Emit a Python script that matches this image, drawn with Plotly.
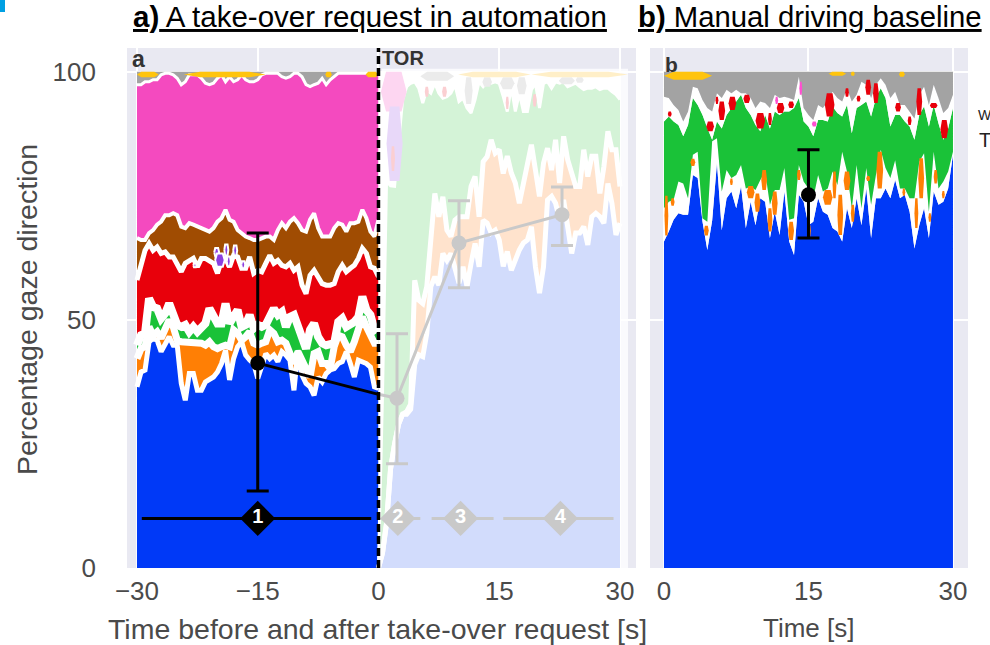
import numpy as np
import plotly.graph_objects as go

t_a = np.arange(61) * 0.5 - 30
t_p = np.arange(61) * 0.5
t_b = np.arange(61) * 0.5

# Panel a, before the take-over request: upper edge of each stacked band (%)
a_blue = [36.5,39.5,39.9,45.6,46.3,45.9,43.6,44.9,46.6,44.9,44.9,37.2,33.8,39.2,39.2,35.8,35.8,37.5,37.9,38.5,39.5,41.2,43.9,37.9,42.2,44.6,45.6,42.9,41.9,41.2,38.2,40.5,43.2,42.2,42.9,41.6,43.6,42.9,41.9,35.8,43.9,38.9,37.2,36.5,34.8,38.5,37.5,39.2,39.9,40.2,41.2,41.6,43.6,41.2,38.5,41.9,41.6,41.2,40.5,36.5,36.2]
a_orange = [42.2,44.2,44.6,48.6,46.9,47.6,46.3,48,50,48.6,45.9,45.6,45.6,45.6,45.3,45.3,45.3,44.9,45.6,44.6,44.2,44.6,44.9,44.6,48,47.3,45.9,46.6,47.6,45.3,44.9,45.3,45.6,48,47.3,45.6,45.9,45.3,43.2,41.2,43.6,41.9,39.9,38.5,43.2,43.6,41.2,41.2,40.2,44.6,46.9,46.6,44.9,43.6,45.6,48.6,50.6,48.6,46.9,45.3,45.3]
a_green = [44.9,46.9,47.3,54.3,52.6,52.3,50.3,51.3,53.3,51.3,49,48.6,49,47.6,48.6,47.6,48.6,49.3,52.3,50.3,49.3,49.3,53.3,49.3,51,52,48.6,49,51,48.3,49,48.6,49,51,52.3,51,51.6,48.6,50.6,51,48.3,45.9,44.2,48,49.3,46.6,45.3,44.9,45.3,45.3,49.6,50.3,48.6,49,49.6,50.6,54.7,52,51,48,48.6]
a_red = [58,61.4,64,65.4,64,64.7,63.4,63.7,62.7,62.7,61.4,59.7,61.4,62,62.4,60.7,62.4,62.4,62,61.4,59.4,62,62.4,60.7,63,62.7,60.4,60.4,62.7,59.4,60,59.7,61.4,63,61.4,62,61,60.7,61.4,60,60.7,57,55.3,59,60,58.4,57.3,57,57,57.3,59.7,61,59.7,60.4,61,62.4,64.4,63.4,60.7,60.4,58.7]
a_brown = [66.5,66.1,66.1,67.5,68.1,69.2,69.8,71.1,71.1,71.5,71.1,68.8,68.5,69.5,69.2,68.8,68.5,68.1,67.8,68.5,69.8,70.5,72.2,70.2,69.8,68.1,67.5,66.8,66.5,66.1,66.1,66.5,66.8,66.8,66.1,68.1,69.5,68.5,69.8,70.5,69.5,68.1,67.8,70.2,71.5,68.5,66.8,66.8,66.8,68.5,69.5,69.2,67.8,69.5,69.5,69.8,72.2,70.5,67.8,66.8,70.2]
a_pink = [97.4,97.4,98,98,98.4,98.4,99.4,99.7,99.7,99.4,98.7,97.4,98,99.4,99.4,99.4,98.7,97.7,97.4,97.7,98.7,99.4,98,99,98,98.4,99.4,98.4,98,98,98.4,99.4,99.7,99.7,99.7,99.7,99,98.7,99,99.7,99.7,99,97.4,97,97.4,97.7,98.7,97.4,98.4,99,99.7,99.7,99.7,99.7,99.7,99.7,99.7,99.7,99.7,99.7,99.7]

# Panel a, after the take-over request
p_blue = [0,3,9,20,25,29,31,31,32,41,43,42.6,47.3,56.7,58.7,57,63.4,62,63.4,60.7,57.4,60.7,56.7,61.4,65.4,60.7,70.1,69.5,67.5,68.1,66.1,60.8,63.8,60,62.1,64.1,65.5,66.1,68.8,60.7,55.4,60.7,74.2,74.9,73.5,70.2,74.2,68.1,63.4,67.5,67.5,68.8,65.1,70.8,71.5,70.8,69.5,77.5,73.5,67.1,69.5]
p_orange = [0,3,9,20,25,29,31,31.5,33,58,54,53.3,56.7,65.4,75.5,70.8,74.8,68.1,66.8,70.1,70.8,70.8,70.8,76.9,78.9,70.8,81.9,82.9,86.3,83.6,84.3,79.5,83,79.6,77.6,73.5,77.6,81.6,85.3,80.2,74.9,81.6,84.6,80.2,86.3,77.6,87,82.3,79.6,76.9,76.9,84.3,78.9,83,83,75.5,80.9,88,84.3,84.3,76.9]
p_green = [1,35,78,77,76.9,85.6,94.4,97,97.7,98,96.7,93.7,96.4,95.7,97.7,95.7,94.7,95,95.7,97.4,94,94.7,92.7,91.7,94.4,98,97,98,97.7,98,97.7,95,92,97,92,95.7,92,92,96.4,97.7,92.7,97.7,98,96.7,98,97.7,98,97,97.4,97.7,97,96.4,96.7,96.7,97,96.4,96.7,96.7,96,95.4,94.4]

# Panel b, manual driving baseline
b_blue = [65.8,67.8,70.2,71.5,71.2,71.2,79.2,78.6,69.8,64.1,70,81.6,68.1,74.5,75.9,72.5,76.9,68.5,73.8,69.1,74.5,73.8,66.5,71.8,67.1,75.9,65.8,63.1,75.2,73.8,69.1,69.8,74.5,71.8,71.2,68.5,67.8,65.8,72.5,68.5,74.5,69.1,76.5,66.5,74.5,74.5,76.5,74.5,78.2,74.5,75.2,71.8,64.4,69.1,72.5,66.5,75.9,73.2,73.8,76.5,83.3]
b_orange = [72.5,73.8,74.2,77.9,77.5,74.5,83.3,83.9,70.5,69.8,86,86.6,75.9,80.2,78.6,79.2,81.2,76.5,76.9,76.2,78.2,79.9,73.2,76.2,76.2,80.6,70.2,70.5,81.2,77.9,76.5,74.5,79.2,75.9,76.5,79.9,77.2,83.9,79.9,72.5,81.2,72.5,80.6,73.2,79.2,84.3,80.6,78.6,82.2,76.5,76.5,74.5,74.5,81.9,83.6,71.8,83.9,76.5,77.9,79.9,83.9]
b_green = [90,91,90,89.3,87,89.3,94.7,93.3,91.3,88.6,86.3,90,88.6,91.3,92.7,94,95.4,92.7,91.3,89.3,88,91.3,88.6,92,91.3,92,92,92.7,94.7,90,89,87,90.3,90.3,90,93,91.7,91,93.3,87.6,92.7,93.3,94,91,94.7,96.7,94.7,89,91.3,91.3,90,89,86.3,91.3,93,89,93.3,89.6,86.3,88.6,92.7]
b_red = [95,94.7,93.3,92.3,90,92,97,96.7,94.3,92.7,92,95.7,94.7,96.4,95.7,96.4,95.7,95.7,94.7,92.7,94,93.7,92.7,95.4,94.7,95,94.7,94.3,99,92.7,91.3,90.3,93.3,92.7,94,96,94.7,94,96.7,94,95.4,98,97.4,94.7,97.4,98.7,97.4,94.7,96,93.3,93.3,92,90.6,95.4,97,93.3,97.4,94.7,91.7,92.7,95.4]

# Small patches: centre time, half width, low edge, high edge
a_purple_patches = [(-20.1,.3,62.8,64.5),(-19.7,.6,60.7,63.4),(-18.9,.25,63,65.2),(-18.6,.25,60.8,62.8),(-17.8,.25,63,65),(-16.8,.25,60.4,61.8),(-22.8,.2,60.6,61.4)]
a_yellow_patches = [(-28.65,1.35,98.9,100),(-19.1,5.1,98.9,100),(-6.2,.4,98.9,100),(-.8,.8,98.9,100)]
p_gray_patches = [(7.3,2.1,98.2,100),(11.2,.5,93.5,98.9),(13.5,.6,97,98.9),(16,.9,96.5,98.9),(17.8,.6,95.5,98.9),(23.4,1,97.5,98.9),(25,.5,97.8,98.9)]
p_yellow_patches = [(14.4,4.5,98.9,100),(25,6,98.9,100)]
p_pink_patches = [(1.9,1.6,92,100)]
p_purple_patches = [(2,1,78,93)]
p_red_patches = [(1.8,.25,80,85),(6,.25,95,97),(8.2,.3,95,97),(16,.2,92.5,95),(19.4,.25,93,95.5)]
b_orange_patches = [(.25,.2,67,75),(.9,.2,73,74.5),(3,.25,81,82.5),(4.4,.25,67,69),(7,.15,77.2,78.5),(9,.4,74.5,77),(9.7,.3,71.8,75.5),(10.4,.3,76.2,80.2),(11.5,.3,71.2,75.9),(11,.25,67.8,72.5),(13.2,.3,66.1,69.8),(14,.2,78.2,80.2),(15.1,.15,66.8,69.1),(17,.5,73.2,76.2),(17.7,.2,74.5,79.9),(18.3,.3,67.1,75.2),(19,.35,76.2,79.9),(19.6,.2,69.8,73.2),(21.2,.2,78,79),(22.4,.35,76.5,83.9),(24.9,.15,75,76.5),(26.7,.3,74.5,82.6),(26.2,.2,68.5,74.5),(27.6,.15,69.8,71.5),(28.2,.2,77.5,80.2),(29,.15,74.5,76)]
b_red_patches = [(.6,.2,91,92),(4.8,.4,88,90),(6,.35,90.3,94),(5.5,.15,93.5,95),(7.1,.4,92.3,95),(8.6,.35,93.7,95.4),(10,.5,88.6,91.7),(11,.2,89.3,91.7),(12.1,.4,91.7,93.7),(13.2,.3,92.7,94),(17.2,.5,91,95.7),(19,.2,95,96.7),(20.2,.2,94,95.2),(21.2,.3,95.4,98.4),(22,.3,93.7,97.7),(24.3,.3,92,93.7),(25.5,.2,89.3,91),(26.5,.3,91.3,96.7),(28,.4,92.7,93.7),(29.1,.4,86.6,90.3)]
b_pink_patches = [(14.2,.15,95.4,98),(11.7,.15,93.5,95),(15.6,.25,89,90)]
b_yellow_patches = [(2.5,2.5,98.4,100),(18,.9,99.2,100),(19.6,.2,99.2,100),(24.7,.3,99,100)]

# Mean gaze per phase with error bars
a_mean_t = [-15]
a_mean = [41.3]
a_hi = [67.5]
a_lo = [15.5]
p_mean_t = [2.3, 10, 22.8]
p_mean = [34.2, 65.5, 71.2]
p_hi = [47.2, 74, 76.8]
p_lo = [21, 56.5, 65]
b_mean_t = [15]
b_mean = [75.2]
b_hi = [84.3]
b_lo = [66.5]
tor_mean = 35

# Phases: label, centre, start, end
phases = [("1",-15,-29.4,-.9),("2",2.4,.9,5.2),("3",10.2,6.6,14.3),("4",22.6,15.5,29.2)]
phase_y = 10

BG = "#e9e9f2"
TXT = "#4a4a4a"
BLUE, ORANGE, GREEN, RED = "#0039f7", "#ff7f05", "#1ac238", "#e8000b"
BROWN, PINK, GRAY, YELLOW, PURPLE = "#a04c02", "#f44abf", "#a3a3a3", "#ffc40d", "#8b3fe0"
P_BLUE, P_ORANGE, P_GREEN, P_RED = "#d2dcfc", "#ffe3cd", "#d4f3d7", "#fbcfd2"
P_PINK, P_GRAY, P_YELLOW, P_PURPLE = "#fdd6f1", "#ebebeb", "#ffefc8", "#e8d8f9"
MARK = "#c9c9c9"

fig = go.Figure()


def band(x, lo, hi, color, xa="x", ya="y"):
    x = list(x)
    fig.add_trace(go.Scatter(x=x + x[::-1], y=list(lo) + list(hi)[::-1], mode="lines",
                             fill="toself", fillcolor=color, line=dict(width=0),
                             xaxis=xa, yaxis=ya, hoverinfo="skip", showlegend=False))


def edge(x, y, w, xa="x", ya="y"):
    fig.add_trace(go.Scatter(x=list(x), y=list(y), mode="lines", line=dict(color="white", width=w),
                             xaxis=xa, yaxis=ya, hoverinfo="skip", showlegend=False))


def patches(items, color, halo=0, xa="x", ya="y"):
    for c, w, lo, hi in items:
        mid = (lo + hi) / 2
        fig.add_trace(go.Scatter(
            x=[c - w, c - .6 * w, c + .6 * w, c + w, c + .6 * w, c - .6 * w, c - w],
            y=[mid, hi, hi, mid, lo, lo, mid], mode="lines", fill="toself", fillcolor=color,
            line=dict(color="white" if halo else color, width=halo if halo else 0),
            xaxis=xa, yaxis=ya, hoverinfo="skip", showlegend=False))


zeros = [0] * 61
hundred = [100] * 61

# Panel a, before
band(t_a, zeros, a_blue, BLUE)
band(t_a, a_blue, a_orange, ORANGE)
band(t_a, a_orange, a_green, GREEN)
band(t_a, a_green, a_red, RED)
band(t_a, a_red, a_brown, BROWN)
band(t_a, a_brown, a_pink, PINK)
band(t_a, a_pink, hundred, GRAY)
for arr, w in [(a_blue, 5), (a_orange, 7), (a_green, 8), (a_red, 5), (a_brown, 4), (a_pink, 3)]:
    edge(t_a, arr, w)
patches(a_yellow_patches, YELLOW)
patches(a_purple_patches, PURPLE, halo=2)

# Panel a, after
band(t_p, zeros, p_blue, P_BLUE)
band(t_p, p_blue, p_orange, P_ORANGE)
band(t_p, p_orange, p_green, P_GREEN)
band(t_p, p_green, hundred, "#ffffff")
for arr, w in [(p_blue, 5), (p_orange, 5), (p_green, 3)]:
    edge(t_p, arr, w)
patches(p_gray_patches, P_GRAY)
patches(p_yellow_patches, P_YELLOW)
patches(p_pink_patches, P_PINK)
patches(p_purple_patches, P_PURPLE)
patches(p_red_patches, P_RED)

# Panel b
band(t_b, zeros, b_blue, BLUE, "x2", "y2")
band(t_b, b_blue, b_orange, "#ffffff", "x2", "y2")
band(t_b, b_orange, b_green, GREEN, "x2", "y2")
band(t_b, b_green, b_red, "#ffffff", "x2", "y2")
band(t_b, b_red, hundred, GRAY, "x2", "y2")
patches(b_orange_patches, ORANGE, 0, "x2", "y2")
patches(b_red_patches, RED, 0, "x2", "y2")
patches(b_pink_patches, "#ff4fd0", 0, "x2", "y2")
patches(b_yellow_patches, YELLOW, 0, "x2", "y2")


def means(x, y, hi, lo, color, xa="x", ya="y"):
    fig.add_trace(go.Scatter(
        x=x, y=y, mode="lines+markers", line=dict(color=color, width=3),
        marker=dict(color=color, size=15),
        error_y=dict(type="data", symmetric=False,
                     array=[h - m for h, m in zip(hi, y)],
                     arrayminus=[m - l for m, l in zip(y, lo)],
                     color=color, thickness=3, width=11),
        xaxis=xa, yaxis=ya, hoverinfo="skip", showlegend=False))


# phase bars
for lab, c, s, e in phases:
    col = "black" if lab == "1" else MARK
    fig.add_trace(go.Scatter(x=[s, e], y=[phase_y, phase_y], mode="lines",
                             line=dict(color=col, width=3), hoverinfo="skip", showlegend=False))
    fig.add_trace(go.Scatter(x=[c], y=[phase_y], mode="markers+text", text=[f"<b>{lab}</b>"],
                             textposition="middle center",
                             textfont=dict(family="Liberation Sans", size=20, color="white"),
                             marker=dict(symbol="diamond", color=col, size=27),
                             hoverinfo="skip", showlegend=False))

fig.add_trace(go.Scatter(x=[0] + p_mean_t[:1], y=[tor_mean] + p_mean[:1], mode="lines",
                         line=dict(color=MARK, width=3), hoverinfo="skip", showlegend=False))
means(p_mean_t, p_mean, p_hi, p_lo, MARK)
means(a_mean_t, a_mean, a_hi, a_lo, "black")
fig.add_trace(go.Scatter(x=a_mean_t + [0], y=a_mean + [tor_mean], mode="lines",
                         line=dict(color="black", width=3), hoverinfo="skip", showlegend=False))
means(b_mean_t, b_mean, b_hi, b_lo, "black", "x2", "y2")

# take-over request marker
fig.add_trace(go.Scatter(x=[0, 0], y=[0, 104.8], mode="lines",
                         line=dict(color="black", width=3.5, dash="8px,4px"),
                         hoverinfo="skip", showlegend=False))

ax = dict(showgrid=True, gridcolor="white", gridwidth=1.5, zeroline=False, showline=False,
          ticks="", tickfont=dict(family="Liberation Sans", size=26, color=TXT))
fig.update_layout(
    width=990, height=645, autosize=False, margin=dict(l=0, r=0, t=0, b=0, autoexpand=False),
    paper_bgcolor="white", plot_bgcolor=BG,
    xaxis=dict(domain=[127 / 990, 636 / 990], range=[-31.24, 31.99], tickvals=[-30, -15, 0, 15, 30], ticklabelstandoff=5, **ax),
    yaxis=dict(domain=[77 / 645, 597 / 645], range=[0, 104.8], tickvals=[0, 50, 100], ticklabelstandoff=30, **ax),
    xaxis2=dict(domain=[650 / 990, 968 / 990], range=[-1.45, 31.56], tickvals=[0, 15, 30], anchor="y2", ticklabelstandoff=5, **ax),
    yaxis2=dict(domain=[77 / 645, 597 / 645], range=[0, 104.8], tickvals=[0, 50, 100], anchor="x2", showticklabels=False,
                **{k: v for k, v in ax.items() if k != "tickfont"}),
    shapes=[
        dict(type="rect", xref="x", yref="y", x0=.4, x1=31, y0=0, y1=100.6, fillcolor="#fafafd",
             line=dict(width=0), layer="below"),
        dict(type="rect", xref="paper", yref="paper", x0=0, x1=5 / 990, y0=633 / 645, y1=1,
             fillcolor="#00a0e3", line=dict(width=0)),
    ],
)


def note(text, x, y, size, color=TXT, anchor="center", angle=0, bold=False):
    fig.add_annotation(text=f"<b>{text}</b>" if bold else text, xref="paper", yref="paper",
                       x=x / 990, y=1 - y / 645, xanchor=anchor, yanchor="middle", showarrow=False,
                       textangle=angle, font=dict(family="Liberation Sans", size=size, color=color))


note("Time before and after take-over request [s]", 377, 629, 28.5)
note("Time [s]", 808, 628, 26)
note("Percentage gaze direction", 27, 310, 28.5, angle=-90)
note("<b><u>a)</u></b><u> A take-over request in automation</u>", 370, 17, 29.5, "black")
note("<b><u>b)</u></b><u> Manual driving baseline</u>", 810, 17, 29.3, "black")
note("a", 138, 59, 23, "#333333", bold=True)
note("b", 671, 64, 21, "#333333", bold=True)
note("TOR", 403, 58, 20, "#333333", bold=True)
note("W", 976, 115, 14, "#222222", anchor="left")
note("T", 977, 140, 20, "#222222", anchor="left")

fig.write_html("out.html", config={"displayModeBar": False},
               post_script="document.body.style.margin='0';document.documentElement.style.overflow='hidden';")
